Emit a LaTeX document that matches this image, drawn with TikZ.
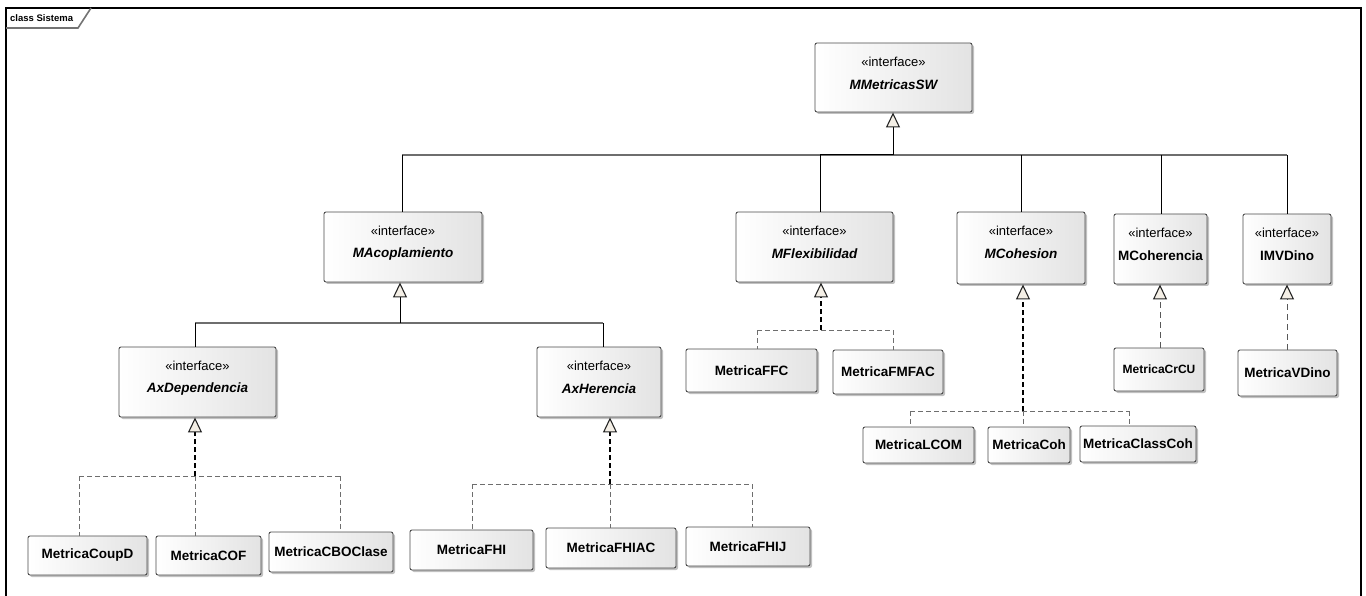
\documentclass[tikz,border=0pt]{standalone}
\usepackage{fontspec}
\setmainfont{Liberation Sans}
\usetikzlibrary{arrows.meta,shadows}

\definecolor{boxedge}{HTML}{4A4A4A}
\definecolor{tipfill}{HTML}{F4EFE6}
\definecolor{busgray}{HTML}{6E6E6E}

\tikzset{
  umlbox/.style={draw=boxedge, line width=0.9pt, rounded corners=2pt,
    left color=white, right color=black!11, inner sep=0pt,
    drop shadow={shadow xshift=2pt, shadow yshift=-2pt, opacity=0.35, fill=black!70}},
  stereo/.style={font=\fontsize{13}{15}\selectfont, inner sep=0pt},
  iname/.style={font=\fontsize{13.5}{16}\selectfont\bfseries\itshape, inner sep=0pt},
  cname/.style={font=\fontsize{13.5}{16}\selectfont\bfseries},
  smallname/.style={font=\fontsize{12}{14}\selectfont\bfseries},
  gentip/.style={-{Triangle[width=14pt,length=15pt,fill=tipfill,color=black!85,line width=1.1pt]}},
  genline/.style={line width=1pt, black},
  genbus/.style={line width=1.5pt, busgray},
  realtrunk/.style={line width=1.5pt, black, dash pattern=on 5pt off 3pt},
  realbus/.style={line width=1pt, busgray, dash pattern=on 5pt off 3pt},
  realthin/.style={line width=1pt, busgray!80!black, dash pattern=on 6pt off 4pt},
  frameline/.style={line width=1.3pt, black},
}

% interface box: name, x, y, width, height, class name, name style
\newcommand\ifacebox[7]{%
  \node[umlbox, minimum width=#4pt, minimum height=#5pt] (#1) at (#2,#3) {};
  \node[stereo] (#1-st) at ([yshift=-19pt]#1.north) {«interface»};
  \node[#7] (#1-nm) at ([yshift=-42pt]#1.north) {#6};
}
% plain class box: name, x, y, width, height, class name, name style
\newcommand\classbox[7]{%
  \node[umlbox, #7, minimum width=#4pt, minimum height=#5pt] (#1) at (#2,#3) {#6};
}

\begin{document}
\begin{tikzpicture}[x=1pt, y=-1pt]
\useasboundingbox (0,0) rectangle (1366,596);

% diagram frame and title tab
\draw[frameline] (6,600) -- (6,8) -- (1361,8) -- (1361,600);
\draw[line width=1.6pt, black!55] (6,28) -- (78,28) -- (91,8);
\node[font=\fontsize{9.5}{11}\selectfont\bfseries, anchor=west, inner sep=0pt] (title) at (10,18) {class Sistema};

% root interface
\ifacebox{root}{893.5}{77.5}{157}{69}{MMetricasSW}{iname}

% second level interfaces
\ifacebox{acop}{403}{247}{158}{70}{MAcoplamiento}{iname}
\ifacebox{flex}{814.5}{247}{157}{70}{MFlexibilidad}{iname}
\ifacebox{cohes}{1021}{248}{128}{72}{MCohesion}{iname}
\ifacebox{coher}{1160.5}{249}{93}{70}{MCoherencia}{cname}
\ifacebox{vdin}{1287}{249}{88}{70}{IMVDino}{cname}

% third level interfaces
\ifacebox{axdep}{197.5}{382}{157}{70}{AxDependencia}{iname}
\ifacebox{axher}{599}{382}{124}{70}{AxHerencia}{iname}

% concrete metric classes
\classbox{coupd}{87.5}{555.5}{119}{39}{MetricaCoupD}{cname}
\classbox{cof}{208.5}{555.5}{105}{39}{MetricaCOF}{cname}
\classbox{cbo}{331}{552}{124}{40}{MetricaCBOClase}{cname}
\classbox{fhi}{471.5}{550}{123}{40}{MetricaFHI}{cname}
\classbox{fhiac}{611}{548}{130}{40}{MetricaFHIAC}{cname}
\classbox{fhij}{748}{546.5}{124}{39}{MetricaFHIJ}{cname}
\classbox{ffc}{751.5}{370.5}{131}{43}{MetricaFFC}{cname}
\classbox{fmfac}{888}{372}{110}{44}{MetricaFMFAC}{cname}
\classbox{lcom}{918.5}{445}{111}{36}{MetricaLCOM}{cname}
\classbox{coh}{1029}{445}{82}{36}{MetricaCoh}{cname}
\classbox{ccoh}{1138}{444}{116}{36}{MetricaClassCoh}{cname}
\classbox{crcu}{1159}{369.5}{90}{43}{MetricaCrCU}{smallname}
\classbox{vdino}{1287.5}{373}{99}{46}{MetricaVDino}{cname}

% --- generalisation: second level -> MMetricasSW
\coordinate (b0l) at (402,155);
\coordinate (b0r) at (1287,155);
\coordinate (b0j) at (893,155);
\draw[genbus] (b0l) -- (b0r);
\draw[genline] (b0l) -- (b0l |- acop.north);
\draw[genline] (820,155) -- (820,155 |- flex.north);
\draw[genline] (1021,155) -- (1021,155 |- cohes.north);
\draw[genline] (1161,155) -- (1161,155 |- coher.north);
\draw[genline] (b0r) -- (b0r |- vdin.north);
\draw[genline] (820,155) -- (b0j);
\draw[genline, gentip] (b0j) -- (b0j |- root.south);

% --- generalisation: AxDependencia, AxHerencia -> MAcoplamiento
\coordinate (b1l) at (195,323);
\coordinate (b1r) at (603,323);
\coordinate (b1j) at (400,323);
\draw[genbus] (b1l) -- (b1r);
\draw[genline] (b1l) -- (b1l |- axdep.north);
\draw[genline] (b1r) -- (b1r |- axher.north);
\draw[genline, gentip] (b1j) -- (b1j |- acop.south);

% --- realisation: AxDependencia
\coordinate (r1l) at (79,476);
\coordinate (r1m) at (195,476);
\coordinate (r1r) at (340,476);
\draw[realbus] (r1l) -- (r1r);
\draw[realbus] (r1l) -- (r1l |- coupd.north);
\draw[realbus] (r1m) -- (r1m |- cof.north);
\draw[realbus] (r1r) -- (r1r |- cbo.north);
\draw[realtrunk, gentip] (r1m) -- (r1m |- axdep.south);

% --- realisation: AxHerencia
\coordinate (r2l) at (472,484);
\coordinate (r2m) at (610,484);
\coordinate (r2r) at (752,484);
\draw[realbus] (r2l) -- (r2r);
\draw[realbus] (r2l) -- (r2l |- fhi.north);
\draw[realbus] (r2m) -- (r2m |- fhiac.north);
\draw[realbus] (r2r) -- (r2r |- fhij.north);
\draw[realtrunk, gentip] (r2m) -- (r2m |- axher.south);

% --- realisation: MFlexibilidad
\coordinate (r3l) at (757,330);
\coordinate (r3m) at (821,330);
\coordinate (r3r) at (893,330);
\draw[realbus] (r3l) -- (r3r);
\draw[realbus] (r3l) -- (r3l |- ffc.north);
\draw[realbus] (r3r) -- (r3r |- fmfac.north);
\draw[realtrunk, gentip] (r3m) -- (r3m |- flex.south);

% --- realisation: MCohesion
\coordinate (r4l) at (910,411);
\coordinate (r4m) at (1023,411);
\coordinate (r4r) at (1129,411);
\draw[realbus] (r4l) -- (r4r);
\draw[realbus] (r4l) -- (r4l |- lcom.north);
\draw[realbus] (r4m) -- (r4m |- coh.north);
\draw[realbus] (r4r) -- (r4r |- ccoh.north);
\draw[realtrunk, gentip] (r4m) -- (r4m |- cohes.south);

% --- realisation: MCoherencia, IMVDino
\draw[realthin, gentip] (1160,0 |- crcu.north) -- (1160,0 |- coher.south);
\draw[realthin, gentip] (1287,0 |- vdino.north) -- (1287,0 |- vdin.south);
\end{tikzpicture}
\end{document}
